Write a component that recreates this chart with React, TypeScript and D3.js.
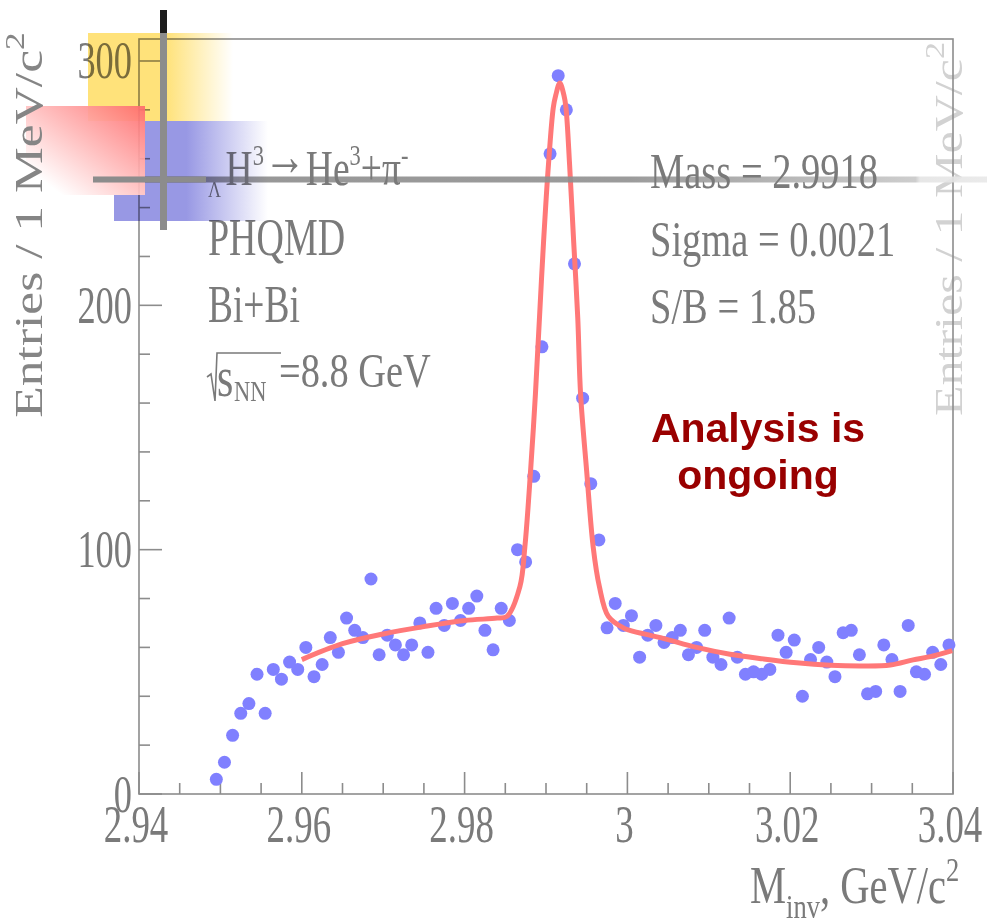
import React from 'react';
import * as d3 from 'd3';

// ---- data ----
const massBins = [
  2.9495, 2.9505, 2.9515, 2.9525, 2.9535, 2.9545, 2.9555, 2.9565, 2.9575, 2.9585,
  2.9595, 2.9605, 2.9615, 2.9625, 2.9635, 2.9645, 2.9655, 2.9665, 2.9675, 2.9685,
  2.9695, 2.9705, 2.9715, 2.9725, 2.9735, 2.9745, 2.9755, 2.9765, 2.9775, 2.9785,
  2.9795, 2.9805, 2.9815, 2.9825, 2.9835, 2.9845, 2.9855, 2.9865, 2.9875, 2.9885,
  2.9895, 2.9905, 2.9915, 2.9925, 2.9935, 2.9945, 2.9955, 2.9965, 2.9975, 2.9985,
  2.9995, 3.0005, 3.0015, 3.0025, 3.0035, 3.0045, 3.0055, 3.0065, 3.0075, 3.0085,
  3.0095, 3.0105, 3.0115, 3.0125, 3.0135, 3.0145, 3.0155, 3.0165, 3.0175, 3.0185,
  3.0195, 3.0205, 3.0215, 3.0225, 3.0235, 3.0245, 3.0255, 3.0265, 3.0275, 3.0285,
  3.0295, 3.0305, 3.0315, 3.0325, 3.0335, 3.0345, 3.0355, 3.0365, 3.0375, 3.0385, 3.0395,
];
const entries = [
  6, 13, 24, 33, 37, 49, 33, 51, 47, 54,
  51, 60, 48, 53, 64, 58, 72, 67, 64, 88,
  57, 65, 61, 57, 61, 70, 58, 76, 69, 78,
  71, 76, 81, 67, 59, 76, 71, 100, 95, 130,
  183, 262, 294, 280, 217, 162, 127, 104, 68, 78,
  69, 73, 56, 65, 69, 62, 64, 67, 57, 60,
  67, 56, 53, 72, 56, 49, 50, 49, 51, 65,
  58, 63, 40, 55, 60, 54, 48, 66, 67, 57,
  41, 42, 61, 55, 42, 69, 50, 49, 58, 53, 61,
];
const fitMass = [
  2.96, 2.965, 2.97, 2.975, 2.98, 2.984, 2.9852, 2.9868, 2.9874, 2.9881, 2.9887,
  2.9892, 2.9897, 2.9903, 2.9909, 2.9912, 2.9917, 2.9922, 2.99245, 2.9929, 2.9934,
  2.9939, 2.99425, 2.995, 2.9958, 2.99655, 2.99766, 2.9995, 3.0003, 3.0044, 3.0085,
  3.0126, 3.0167, 3.0208, 3.0249, 3.029, 3.0323, 3.0351, 3.0372, 3.0399,
];
const fitEntries = [
  55, 61.5, 65.5, 68.5, 71, 72, 72.7, 85, 101, 132, 163.6,
  195, 226, 257.5, 281, 286, 291, 286, 281, 257.5, 226,
  195, 163.6, 132, 101, 85, 72.7, 68, 67, 63.7, 60,
  57.2, 55.3, 53.7, 52.7, 52.4, 52.8, 54.9, 56.2, 58.7,
];
const xMajorTicks = [2.94, 2.96, 2.98, 3.0, 3.02, 3.04];
const xTickLabels = ['2.94', '2.96', '2.98', '3', '3.02', '3.04'];
const yMajorTicks = [0, 100, 200, 300];
const yTickLabels = ['0', '100', '200', '300'];
const fitInfo = ['Mass = 2.9918', 'Sigma = 0.0021', 'S/B = 1.85'];

const SERIF = '"Liberation Serif", "Times New Roman", serif';
const SANS = '"Liberation Sans", Arial, sans-serif';
const GRAY = '#7a7a7a';
const AXIS = '#8c8c8c';

const W = 987;
const H = 924;
const L = 139, R = 953, T = 39, B = 794;

type STProps = {
  x: number; y: number; sx?: number; size: number; fill?: string;
  anchor?: 'start' | 'middle' | 'end'; children: React.ReactNode; rot?: number;
};
const ST = ({ x, y, sx = 0.75, size, fill = GRAY, anchor = 'start', children, rot = 0 }: STProps) => (
  <g transform={`translate(${x},${y}) rotate(${rot}) scale(${sx},1)`}>
    <text x={0} y={0} fontFamily={SERIF} fontSize={size} fill={fill} textAnchor={anchor}>
      {children}
    </text>
  </g>
);

export default function App() {
  const x = d3.scaleLinear().domain([2.94, 3.04]).range([L, R]);
  const y = d3.scaleLinear().domain([0, 309]).range([B, T]);

  const xMinor = d3.range(0, 21).map((i) => 2.94 + i * 0.005)
    .filter((v) => !xMajorTicks.some((m) => Math.abs(m - v) < 1e-6));
  const yMinor = d3.range(0, 310, 20).filter((v) => v % 100 !== 0);

  const fitLine = d3.line<number>()
    .x((_, i) => x(fitMass[i]))
    .y((d) => y(d))
    .curve(d3.curveCatmullRom.alpha(0.5))(fitEntries) || '';

  const mult: React.CSSProperties = { mixBlendMode: 'multiply' };

  return (
    <svg width={W} height={H} style={{ position: 'absolute', left: 0, top: 0 }}>
      <defs>
        <linearGradient id="gYellow" x1="0" y1="0" x2="1" y2="0">
          <stop offset="0" stopColor="#ffe27a" />
          <stop offset="0.54" stopColor="#ffe27a" />
          <stop offset="1" stopColor="#ffffff" />
        </linearGradient>
        <linearGradient id="gRed" x1="1" y1="0" x2="0" y2="1">
          <stop offset="0" stopColor="#ff6a6a" />
          <stop offset="0.85" stopColor="#ffffff" />
          <stop offset="1" stopColor="#ffffff" />
        </linearGradient>
        <linearGradient id="gBlue" gradientUnits="userSpaceOnUse" x1="114" y1="0" x2="268" y2="0">
          <stop offset="0" stopColor="#9898e4" />
          <stop offset="0.47" stopColor="#9898e4" />
          <stop offset="1" stopColor="#ffffff" />
        </linearGradient>
        <linearGradient id="gHline" gradientUnits="userSpaceOnUse" x1="93" y1="0" x2="987" y2="0">
          <stop offset="0" stopColor="#8a8a8a" />
          <stop offset="0.6" stopColor="#909090" />
          <stop offset="0.92" stopColor="#c8c8c8" />
          <stop offset="0.925" stopColor="#e4e4e4" />
          <stop offset="1" stopColor="#e8e8e8" />
        </linearGradient>
      </defs>
      <rect x={0} y={0} width={W} height={H} fill="#ffffff" />

      {/* right ghost title and x title */}
      <ST x={962} y={229} rot={-90} sx={1.22} size={41} fill="#d2d2d2" anchor="middle">
        Entries / 1 MeV/c<tspan fontSize={28} dy={-18}>2</tspan>
      </ST>
      <ST x={750} y={903} sx={0.78} size={52}>
        M<tspan fontSize={34} dy={15}>inv</tspan><tspan dy={-15}>, GeV/c</tspan>
        <tspan fontSize={34} dy={-22}>2</tspan>
      </ST>

      {/* frame */}
      <rect x={L} y={T} width={R - L} height={B - T} fill="none" stroke={AXIS} strokeWidth={1.6} />

      {/* ticks */}
      {xMajorTicks.map((t) => (
        <line key={'xM' + t} x1={x(t)} x2={x(t)} y1={B} y2={B - 22} stroke={AXIS} strokeWidth={1.6} />
      ))}
      {xMinor.map((t) => (
        <line key={'xm' + t} x1={x(t)} x2={x(t)} y1={B} y2={B - 11} stroke={AXIS} strokeWidth={1.6} />
      ))}
      {yMajorTicks.map((t) => (
        <line key={'yM' + t} x1={L} x2={L + 23} y1={y(t)} y2={y(t)} stroke={AXIS} strokeWidth={1.6} />
      ))}
      {yMinor.map((t) => (
        <line key={'ym' + t} x1={L} x2={L + 11} y1={y(t)} y2={y(t)} stroke={AXIS} strokeWidth={1.6} />
      ))}

      {/* tick labels */}
      {yMajorTicks.map((t, i) => (
        <ST key={'yl' + t} x={132} y={y(t) + 17.5} sx={0.7} size={52} anchor="end">
          {yTickLabels[i]}
        </ST>
      ))}
      {xMajorTicks.map((t, i) => (
        <ST key={'xl' + t} x={x(t) - 3} y={842} sx={0.71} size={52} anchor="middle">
          {xTickLabels[i]}
        </ST>
      ))}

      {/* data points */}
      {massBins.map((m, i) => (
        <circle key={'p' + i} cx={x(m)} cy={y(entries[i])} r={6.5} fill="#8080ff" />
      ))}

      {/* fit */}
      <path d={fitLine} fill="none" stroke="#ff7878" strokeWidth={5} strokeLinejoin="round" />

      {/* crosshair horizontal line (under texts) */}
      <rect x={93} y={176.5} width={894} height={6} fill="url(#gHline)" opacity={0.9} />

      {/* left labels */}
      <ST x={208} y={185} sx={0.75} size={50}>
        <tspan fontSize={24} dy={12}>Λ</tspan>
        <tspan dy={-12} dx={6}>H</tspan>
        <tspan fontSize={30} dy={-20}>3</tspan>
        <tspan dy={10} fontSize={56}>→</tspan>
        <tspan dy={10}>He</tspan>
        <tspan fontSize={30} dy={-20}>3</tspan>
        <tspan dy={20}>+π</tspan>
        <tspan fontSize={30} dy={-20}>-</tspan>
      </ST>
      <ST x={208} y={255} sx={0.73} size={52}>PHQMD</ST>
      <ST x={208} y={322} sx={0.72} size={52}>Bi+Bi</ST>
      <path d="M207,377 L211,374 L215,401 L217,353 L281,353" fill="none" stroke={GRAY} strokeWidth={1.6} />
      <ST x={217} y={396} sx={0.75} size={56}>s</ST>
      <ST x={234} y={401} sx={0.75} size={30}>NN</ST>
      <ST x={279} y={387} sx={0.8} size={48}>=8.8 GeV</ST>

      {/* fit info */}
      {fitInfo.map((s, i) => (
        <ST key={'fi' + i} x={650} y={188 + i * 67.5} sx={0.77} size={50}>{s}</ST>
      ))}

      {/* status */}
      <text x={758} y={442} textAnchor="middle" fontFamily={SANS} fontWeight="bold" fontSize={41} fill="#990000">
        Analysis is
      </text>
      <text x={758} y={489} textAnchor="middle" fontFamily={SANS} fontWeight="bold" fontSize={41} fill="#990000">
        ongoing
      </text>

      {/* decorative logo */}
      <rect x={88} y={33} width={145} height={88} fill="url(#gYellow)" style={mult} />
      <path d="M145,121 L268,121 L268,221 L114,221 L114,195 L145,195 Z" fill="url(#gBlue)" style={mult} />
      <rect x={26} y={106} width={119} height={89} fill="url(#gRed)" opacity={0.92} />
      <rect x={93} y={176.5} width={113} height={6} fill="#8c8c8c" />
      <rect x={160} y={33} width={7} height={197} fill="#8c8c8c" />
      <rect x={160} y={10} width={7} height={23} fill="#1c1c1c" />

      {/* left title on top */}
      <ST x={42} y={225} rot={-90} sx={1.257} size={41} fill="#858585" anchor="middle">
        Entries / 1 MeV/c<tspan fontSize={28} dy={-18}>2</tspan>
      </ST>
    </svg>
  );
}
